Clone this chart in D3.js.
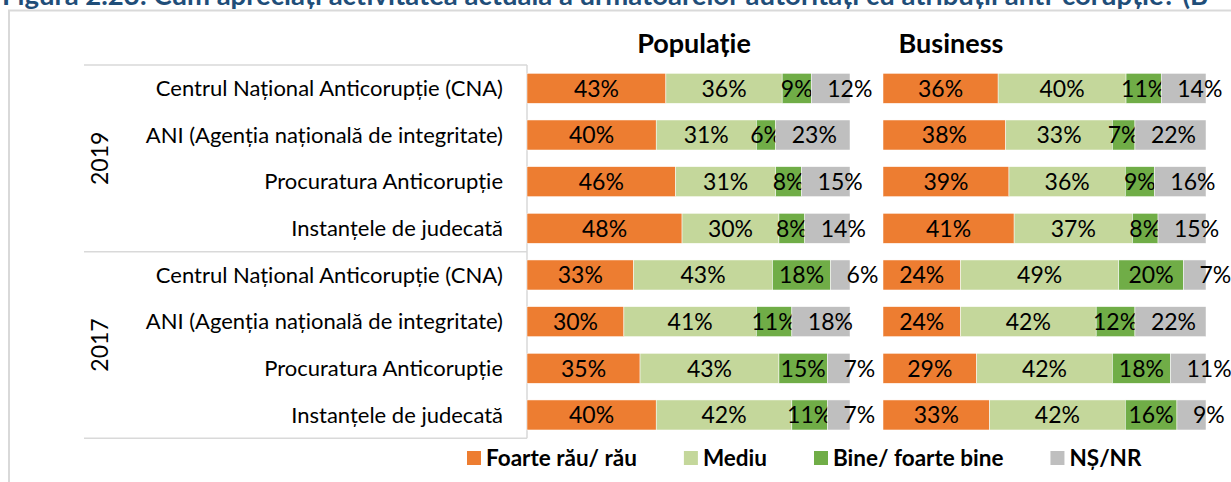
<!DOCTYPE html>
<html>
<head>
<meta charset="utf-8">
<script src="https://cdn.jsdelivr.net/npm/d3@7"></script>
<style>
  body { margin: 0; background: #fff; }
  svg { display: block; font-family: Lato, 'Open Sans', sans-serif; }
</style>
</head>
<body>
<svg id="chart" width="1231" height="482"></svg>
<script>
const title = 'Figura 2.23: Cum apreciați activitatea actuală a următoarelor autorități cu atribuții anti-corupție? (B'
const panels = ['Populație', 'Business']
const years = ['2019', '2017']
const institutions = [
	'Centrul Național Anticorupție (CNA)',
	'ANI (Agenția națională de integritate)',
	'Procuratura Anticorupție',
	'Instanțele de judecată'
]
const series = ['Foarte rău/ rău', 'Mediu', 'Bine/ foarte bine', 'NȘ/NR']
const colors = ['#ED7D31', '#C4D79B', '#70AD47', '#BFBFBF']

// one row per institution, 2019 first then 2017
const populatie = [
	[43, 36, 9, 12], [40, 31, 6, 23], [46, 31, 8, 15], [48, 30, 8, 14],
	[33, 43, 18, 6], [30, 41, 11, 18], [35, 43, 15, 7], [40, 42, 11, 7]
]
const business = [
	[36, 40, 11, 14], [38, 33, 7, 22], [39, 36, 9, 16], [41, 37, 8, 15],
	[24, 49, 20, 7], [24, 42, 12, 22], [29, 42, 18, 11], [33, 42, 16, 9]
]

const svg = d3.select('#chart')
const width = 1231, height = 482
const rows = years.flatMap(year => institutions.map(name => ({ year, name })))

const y = d3.scaleBand()
	.domain(d3.range(rows.length))
	.range([65, 438.3])
	.paddingInner(0.357)
	.paddingOuter(0.1785)

const panelRange = [[527, 850], [883, 1206]]
const headerX = [694, 951]
const stack = d3.stack().keys(d3.range(series.length)).offset(d3.stackOffsetExpand)

// frame
svg.append('path')
	.attr('d', `M9,${height} V10.5 H${width}`)
	.attr('fill', 'none')
	.attr('stroke', '#D9D9D9')
	.attr('stroke-width', 2)

// title is cut by the top edge, as in the source
svg.append('text')
	.attr('x', 2)
	.attr('y', 4.5)
	.attr('fill', '#1F4E79')
	.attr('font-weight', 'bold')
	.attr('font-size', 27.5)
	.text(title)

// category table
const gap = (y.step() - y.bandwidth()) / 2
const groupEdges = [y.range()[0], y(institutions.length) - gap, y.range()[1]]
const table = svg.append('g').attr('stroke', '#D9D9D9').attr('stroke-width', 1.5)
table.selectAll('line.h')
	.data(groupEdges)
	.join('line')
	.attr('class', 'h')
	.attr('x1', 84)
	.attr('x2', panelRange[0][0])
	.attr('y1', d => d)
	.attr('y2', d => d)
table.append('line')
	.attr('x1', panelRange[0][0])
	.attr('x2', panelRange[0][0])
	.attr('y1', groupEdges[0])
	.attr('y2', groupEdges[2])

svg.append('g')
	.selectAll('text')
	.data(rows)
	.join('text')
	.attr('x', 503)
	.attr('y', (d, i) => y(i) + y.bandwidth() / 2)
	.attr('dy', '0.35em')
	.attr('text-anchor', 'end')
	.attr('font-size', 22)
	.attr('fill', '#000')
	.text(d => d.name)

svg.append('g')
	.selectAll('text')
	.data(years)
	.join('text')
	.attr('transform', (d, i) => `translate(100,${(groupEdges[i] + groupEdges[i + 1]) / 2}) rotate(-90)`)
	.attr('dy', '0.35em')
	.attr('text-anchor', 'middle')
	.attr('font-size', 23)
	.attr('fill', '#000')
	.text(d => d)

// bars
;[populatie, business].forEach((data, p) => {
	const x = d3.scaleLinear().domain([0, 1]).range(panelRange[p])
	const layers = stack(data)
	const g = svg.append('g')

	svg.append('text')
		.attr('x', headerX[p])
		.attr('y', 53)
		.attr('text-anchor', 'middle')
		.attr('font-weight', 'bold')
		.attr('font-size', 27)
		.attr('fill', '#000')
		.text(panels[p])

	const layer = g.selectAll('g')
		.data(layers)
		.join('g')
		.attr('fill', (d, i) => colors[i])

	layer.selectAll('rect')
		.data(d => d)
		.join('rect')
		.attr('x', d => x(d[0]))
		.attr('y', (d, i) => y(i))
		.attr('width', d => x(d[1]) - x(d[0]))
		.attr('height', y.bandwidth())
		.attr('stroke', '#fff')
		.attr('stroke-width', 0.5)

	layer.selectAll('text')
		.data((d, k) => d.map((seg, i) => ({ seg, k, i, v: data[i][k] })))
		.join('text')
		.attr('x', d => d.k === series.length - 1 ? x(d.seg[0]) + 16 : (x(d.seg[0]) + x(d.seg[1])) / 2)
		.attr('y', d => y(d.i) + y.bandwidth() / 2)
		.attr('dy', '0.36em')
		.attr('text-anchor', d => d.k === series.length - 1 ? 'start' : 'middle')
		.attr('font-size', 23)
		.attr('fill', '#000')
		.text(d => d.v + '%')
})

// legend
const legend = svg.append('g').attr('transform', 'translate(0,458)')
let lx = 467
series.forEach((name, i) => {
	legend.append('rect')
		.attr('x', lx)
		.attr('y', -7)
		.attr('width', 14)
		.attr('height', 14)
		.attr('fill', colors[i])
	const t = legend.append('text')
		.attr('x', lx + 19)
		.attr('dy', '0.36em')
		.attr('font-weight', 'bold')
		.attr('font-size', 22.5)
		.attr('fill', '#000')
		.text(name)
	lx += 19 + t.node().getComputedTextLength() + 47
})
</script>
</body>
</html>
